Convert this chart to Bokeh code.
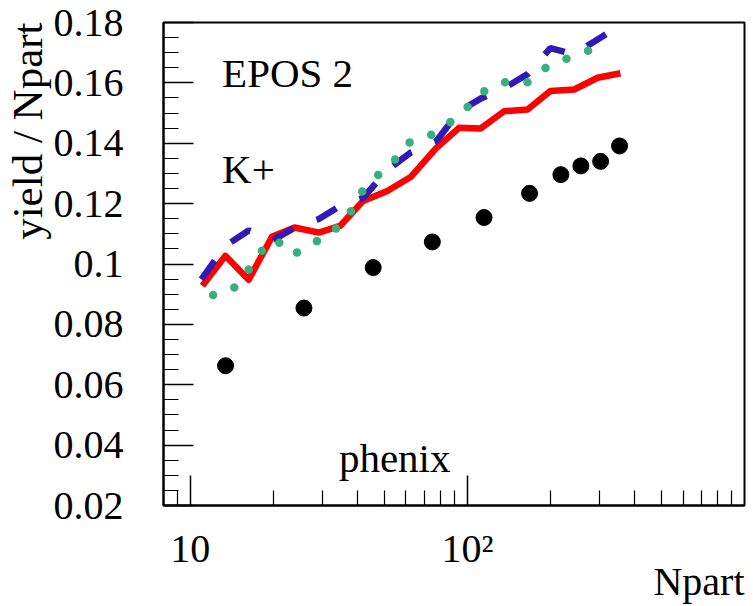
from bokeh.plotting import figure
from bokeh.models import Range1d, FixedTicker, Label, Title
from bokeh.embed import file_html
from bokeh.resources import INLINE

# ---- data ----
phenix_npart = [13.4, 25.7, 45.7, 74.7, 114.8, 167.6, 217.4, 256.7, 302.5, 354.0]
phenix_yield = [0.0663, 0.0854, 0.0988, 0.1073, 0.1154, 0.1234, 0.1296, 0.1325, 0.1340, 0.1391]

red_npart = [11.05, 13.38, 16.24, 19.70, 23.76, 29.09, 34.70, 42.02, 51.39, 62.39,
             76.83, 93.25, 111.7, 135.6, 164.8, 199.2, 242.8, 295.0, 356.6]
red_yield = [0.0928, 0.1027, 0.0948, 0.1090, 0.1121, 0.1104, 0.1126, 0.1209, 0.1242, 0.1288,
             0.1382, 0.1451, 0.1449, 0.1506, 0.1512, 0.1573, 0.1578, 0.1617, 0.1632]

blue_npart = [10.96, 13.38, 16.24, 19.70, 23.76, 29.09, 34.70, 42.02, 51.39, 62.39,
              76.83, 93.25, 111.7, 135.6, 164.8, 199.2, 242.8, 295.0, 316.1]
blue_yield = [0.0949, 0.1060, 0.1111, 0.1077, 0.1120, 0.1149, 0.1192, 0.1219, 0.1311, 0.1369,
              0.1404, 0.1506, 0.1548, 0.1582, 0.1629, 0.1715, 0.1695, 0.1744, 0.1761]

green_npart = [12.08, 14.19, 16.03, 17.91, 20.29, 23.43, 27.44, 32.51, 37.24, 40.81, 46.24,
               53.70, 60.34, 71.70, 84.19, 96.72, 112.4, 133.4, 162.5, 187.1, 224.2, 269.2, 320.6]
green_yield = [0.0897, 0.0915, 0.0974, 0.1040, 0.1082, 0.1030, 0.1066, 0.1105, 0.1159, 0.1231, 0.1285,
               0.1335, 0.1400, 0.1420, 0.1460, 0.1506, 0.1567, 0.1603, 0.1598, 0.1645, 0.1678, 0.1704, 0.1738]

y_ticks = [0.02, 0.04, 0.06, 0.08, 0.1, 0.12, 0.14, 0.16, 0.18]
y_tick_labels = ["0.02", "0.04", "0.06", "0.08", "0.1", "0.12", "0.14", "0.16", "0.18"]
x_ticks = [10, 100]
x_tick_labels = ["10", "10\u00b2"]

FONT = "Liberation Serif"

p = figure(width=753, height=606, x_axis_type="log",
           x_range=Range1d(8, 1000), y_range=Range1d(0.02, 0.18),
           output_backend="svg", toolbar_location=None, title=None,
           min_border_left=163, min_border_right=9, min_border_top=22, min_border_bottom=101)
p.background_fill_color = "white"
p.border_fill_color = "white"
p.outline_line_color = "black"
p.outline_line_width = 2
p.xgrid.grid_line_color = None
p.ygrid.grid_line_color = None

x_minor = [m * 10 ** k for k in (0, 1, 2) for m in range(2, 10) if 8 < m * 10 ** k < 1000]
y_minor = [round(0.02 + 0.005 * i, 3) for i in range(33)]
p.xaxis.ticker = FixedTicker(ticks=x_ticks, minor_ticks=x_minor)
p.yaxis.ticker = FixedTicker(ticks=y_ticks, minor_ticks=y_minor)
p.xaxis.major_label_overrides = dict(zip(x_ticks, x_tick_labels))
p.yaxis.major_label_overrides = dict(zip(y_ticks, y_tick_labels))

for ax in (p.xaxis[0], p.yaxis[0]):
    ax.axis_line_color = "black"
    ax.axis_line_width = 2
    ax.major_tick_in = 30
    ax.major_tick_out = 0
    ax.minor_tick_in = 15
    ax.minor_tick_out = 0
    ax.major_tick_line_color = "black"
    ax.minor_tick_line_color = "black"
    ax.major_tick_line_width = 1.5
    ax.minor_tick_line_width = 1.2
    ax.major_label_text_font = FONT
    ax.major_label_text_font_size = "40px"
    ax.major_label_text_color = "black"
p.yaxis.major_label_standoff = 40
p.xaxis.major_label_standoff = 20

# axis titles, placed at the end of each axis
p.add_layout(Title(text="Npart", align="right", text_font=FONT, text_font_size="40px",
                   text_font_style="normal", text_color="black", standoff=-34), "below")
p.add_layout(Title(text="yield / Npart", align="right", text_font=FONT, text_font_size="43px",
                   text_font_style="normal", text_color="black", standoff=0), "left")

# ---- series ----
p.line(red_npart, red_yield, line_color="#ff0000", line_width=6.5, line_join="round")
p.line(blue_npart, blue_yield, line_color="#3319b5", line_width=6.5, line_dash="23 25")
p.line(green_npart, green_yield, line_color="#36b07e", line_width=8.5,
       line_dash="0 23", line_cap="round")
p.scatter(phenix_npart, phenix_yield, size=16, color="black")

# ---- texts inside the frame ----
def lab(x, y, text, size="41px"):
    p.add_layout(Label(x=x, y=y, text=text, text_font=FONT, text_font_size=size,
                       text_color="black", text_align="left", text_baseline="alphabetic"))

lab(13.02, 0.1633, "EPOS 2")
lab(13.02, 0.1314, "K+")
lab(34.36, 0.0358, "phenix")

open("out.html", "w").write(file_html(p, INLINE))
